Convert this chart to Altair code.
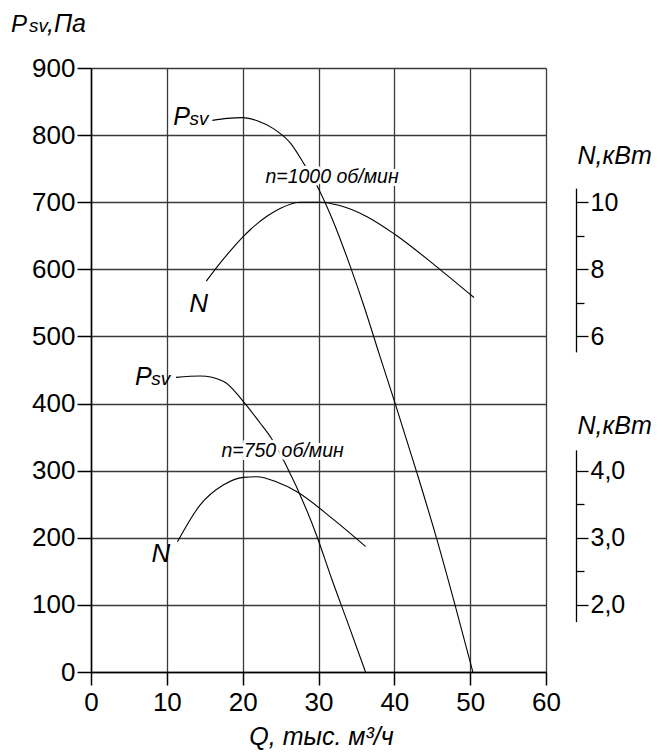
import altair as alt
import pandas as pd

# ---------------- data ----------------
# Static pressure curves, Pa
q_p1000 = [16.0, 18.0, 20.0, 22.0, 24.0, 26.3, 28.2, 30.1, 31.7, 34.2, 36.0, 38.0, 40.0, 43.0, 45.6, 48.0, 50.35]
p1000 = [822, 825, 826, 821, 810, 788, 755, 718, 678, 604, 545, 474, 404, 296, 198, 100, 0]

q_p750 = [11.2, 14.4, 17.5, 20.1, 22.3, 23.8, 25.6, 29.8, 31.7, 33.9, 36.2]
p750 = [439, 441, 433, 403, 371, 348, 311, 202, 140, 72, 0]

# Power curves, kW
q_n1000 = [15.2, 17.0, 18.8, 20.1, 21.0, 23.2, 25.0, 27.6, 30.2, 32.8, 36.4, 40.1, 46.0, 50.5]
n1000 = [7.65, 8.18, 8.66, 8.98, 9.18, 9.58, 9.82, 10.0, 10.0, 9.9, 9.57, 9.04, 8.0, 7.16]

q_n750 = [11.4, 14.4, 17.5, 20.1, 21.9, 24.5, 27.1, 32.0, 36.2]
n750 = [2.94, 3.49, 3.79, 3.90, 3.91, 3.83, 3.69, 3.27, 2.87]

# axis ticks
x_ticks = [0, 10, 20, 30, 40, 50, 60]
y_ticks = [0, 100, 200, 300, 400, 500, 600, 700, 800, 900]
n1000_ticks = [6, 7, 8, 9, 10]
n750_ticks = [2.0, 2.5, 3.0, 3.5, 4.0]

# curve labels ("P" + small "sv", and "N")
psv_text = ["P", "sv", "P", "sv"]
psv_q = [10.86, 13.0, 5.8, 7.95]
psv_p = [815, 815, 427.7, 427.7]
psv_size = [25, 19, 25, 19]

n_text = ["N", "N"]
n_q = [14.2, 9.2]
n_p = [537, 163.5]

speed_text = ["n=1000 об/мин", "n=750 об/мин"]
speed_q = [23.0, 17.2]
speed_p = [728, 321]

# left axis title pieces
ytitle_text = ["P", "sv", ",Па"]
ytitle_size = [24, 19, 25]

# ---------------- layout ----------------
W, H = 455, 604
YMAX = 900
FONT = "Liberation Sans"


def px(pa):
    return H * (1 - pa / YMAX)


# N axes: position of the N scales relative to the Pa grid
n1000_dom = [5.54, 10.42]           # 6 kW -> 500 Pa, 10 kW -> 700 Pa
n1000_pa = [500 + (v - 6) * 50 for v in n1000_dom]
n750_dom = [1.75, 4.31]             # 2 kW -> 100 Pa, 4 kW -> 300 Pa
n750_pa = [100 * v - 100 for v in n750_dom]

xscale = alt.Scale(domain=[0, 60], nice=False)
yscale = alt.Scale(domain=[0, YMAX], nice=False)

p_df = pd.DataFrame(
    {"Q": q_p1000 + q_p750,
     "P": p1000 + p750,
     "s": ["1000"] * len(q_p1000) + ["750"] * len(q_p750)}
)
n1_df = pd.DataFrame({"Q": q_n1000, "N": n1000})
n2_df = pd.DataFrame({"Q": q_n750, "N": n750})
psv_df = pd.DataFrame({"t": psv_text, "Q": psv_q, "P": psv_p, "fs": psv_size})
n_df = pd.DataFrame({"t": n_text, "Q": n_q, "P": n_p})
sp_df = pd.DataFrame({"t": speed_text, "Q": speed_q, "P": speed_p})

x_main = alt.X(
    "Q:Q", scale=xscale,
    axis=alt.Axis(
        values=x_ticks, grid=True, gridColor="#3a3a3a", gridWidth=1.3,
        domainColor="black", domainWidth=1.5, tickColor="black", tickWidth=1.5,
        tickSize=13, labelFontSize=26, labelFont=FONT, labelColor="black",
        labelPadding=4, labelFlush=False,
        title="Q, тыс. м³/ч", titleFont=FONT, titleFontSize=25,
        titleFontStyle="italic", titleFontWeight="normal", titleColor="black",
        titleBaseline="alphabetic", titleY=72, titleX=230, titleAlign="center",
    ),
)
x_noaxis = alt.X("Q:Q", scale=xscale, axis=None)
y_noaxis = alt.Y("P:Q", scale=yscale, axis=None)

# pressure curves (carry the main grid / left axis)
p_lines = alt.Chart(p_df).mark_line(
    color="black", strokeWidth=1.1, interpolate="monotone"
).encode(
    x=x_main,
    y=alt.Y(
        "P:Q", scale=yscale,
        axis=alt.Axis(
            values=y_ticks, grid=True, gridColor="#3a3a3a", gridWidth=1.3,
            domainColor="black", domainWidth=1.5, tickColor="black", tickWidth=1.5,
            tickSize=14, labelFontSize=26, labelFont=FONT, labelColor="black",
            labelPadding=2, labelFlush=False, title=None,
        ),
    ),
    detail="s:N",
)

# power curve 1000 rpm with its own right axis
n1_axis = alt.Axis(
    orient="right", offset=30, values=n1000_ticks, grid=False,
    domainColor="black", domainWidth=1.3, tickColor="black", tickWidth=1.3,
    tickSize={"condition": {"test": "datum.value % 2 == 0", "value": 12}, "value": 8},
    labelExpr="datum.value % 2 == 0 ? datum.label : ''",
    labelFontSize=25, labelFont=FONT, labelColor="black", labelPadding=2,
    labelFlush=False,
    title="N,кВт", titleFont=FONT, titleFontSize=25, titleFontStyle="italic",
    titleFontWeight="normal", titleColor="black", titleAngle=0,
    titleAlign="left", titleBaseline="alphabetic", titleX=1, titleY=95,
)
n1_line = alt.Chart(n1_df).mark_line(
    color="black", strokeWidth=1.1, interpolate="monotone"
).encode(
    x=x_noaxis,
    y=alt.Y("N:Q", scale=alt.Scale(domain=n1000_dom, nice=False, zero=False,
                                   range=[px(n1000_pa[0]), px(n1000_pa[1])]),
            axis=n1_axis),
)

n2_axis = alt.Axis(
    orient="right", offset=30, values=n750_ticks, grid=False,
    domainColor="black", domainWidth=1.3, tickColor="black", tickWidth=1.3,
    tickSize={"condition": {"test": "datum.value % 1 == 0", "value": 12}, "value": 8},
    labelExpr="datum.value % 1 == 0 ? replace(format(datum.value, '.1f'), '.', ',') : ''",
    labelFontSize=25, labelFont=FONT, labelColor="black", labelPadding=2,
    labelFlush=False,
    title="N,кВт", titleFont=FONT, titleFontSize=25, titleFontStyle="italic",
    titleFontWeight="normal", titleColor="black", titleAngle=0,
    titleAlign="left", titleBaseline="alphabetic", titleX=1, titleY=365,
)
n2_line = alt.Chart(n2_df).mark_line(
    color="black", strokeWidth=1.1, interpolate="monotone"
).encode(
    x=x_noaxis,
    y=alt.Y("N:Q", scale=alt.Scale(domain=n750_dom, nice=False, zero=False,
                                   range=[px(n750_pa[0]), px(n750_pa[1])]),
            axis=n2_axis),
)

# curve labels
psv_labels = alt.Chart(psv_df).mark_text(
    font=FONT, fontStyle="italic", color="black", baseline="alphabetic", align="left"
).encode(
    x=x_noaxis, y=y_noaxis, text="t:N",
    size=alt.Size("fs:Q", scale=None, legend=None),
)
n_labels = alt.Chart(n_df).mark_text(
    font=FONT, fontStyle="italic", color="black", baseline="alphabetic",
    align="center", fontSize=26
).encode(x=x_noaxis, y=y_noaxis, text="t:N")

# speed labels with a white halo that interrupts lines behind them
sp_halo = alt.Chart(sp_df).mark_text(
    font=FONT, fontStyle="italic", fontSize=19.5, color="white", stroke="white",
    strokeWidth=6, align="left", baseline="alphabetic"
).encode(x=x_noaxis, y=y_noaxis, text="t:N")
sp_text = alt.Chart(sp_df).mark_text(
    font=FONT, fontStyle="italic", fontSize=19.5, color="black",
    align="left", baseline="alphabetic"
).encode(x=x_noaxis, y=y_noaxis, text="t:N")

# left axis title "Psv,Па" (mixed sizes), placed in pixels left of the plot
ttl_df = pd.DataFrame({"t": ytitle_text, "fs": ytitle_size, "px": [-80, -62, -44]})
y_title = alt.Chart(ttl_df).mark_text(
    font=FONT, fontStyle="italic", color="black", align="left", baseline="alphabetic"
).encode(
    x=alt.X("px:Q", scale=None, axis=None),
    y=alt.value(-36),
    text="t:N",
    size=alt.Size("fs:Q", scale=None, legend=None),
)

chart = alt.layer(
    p_lines, n1_line, n2_line, sp_halo, sp_text, psv_labels, n_labels, y_title
).resolve_scale(
    y="independent", x="independent"
).properties(
    width=W, height=H,
    autosize=alt.AutoSizeParams(type="none"),
    padding={"left": 83, "top": 60, "right": 106, "bottom": 78},
).configure_view(
    stroke="black", strokeWidth=1.5
).configure(
    background="white"
)

chart.save("out.html", embed_options={"renderer": "svg", "actions": False})
